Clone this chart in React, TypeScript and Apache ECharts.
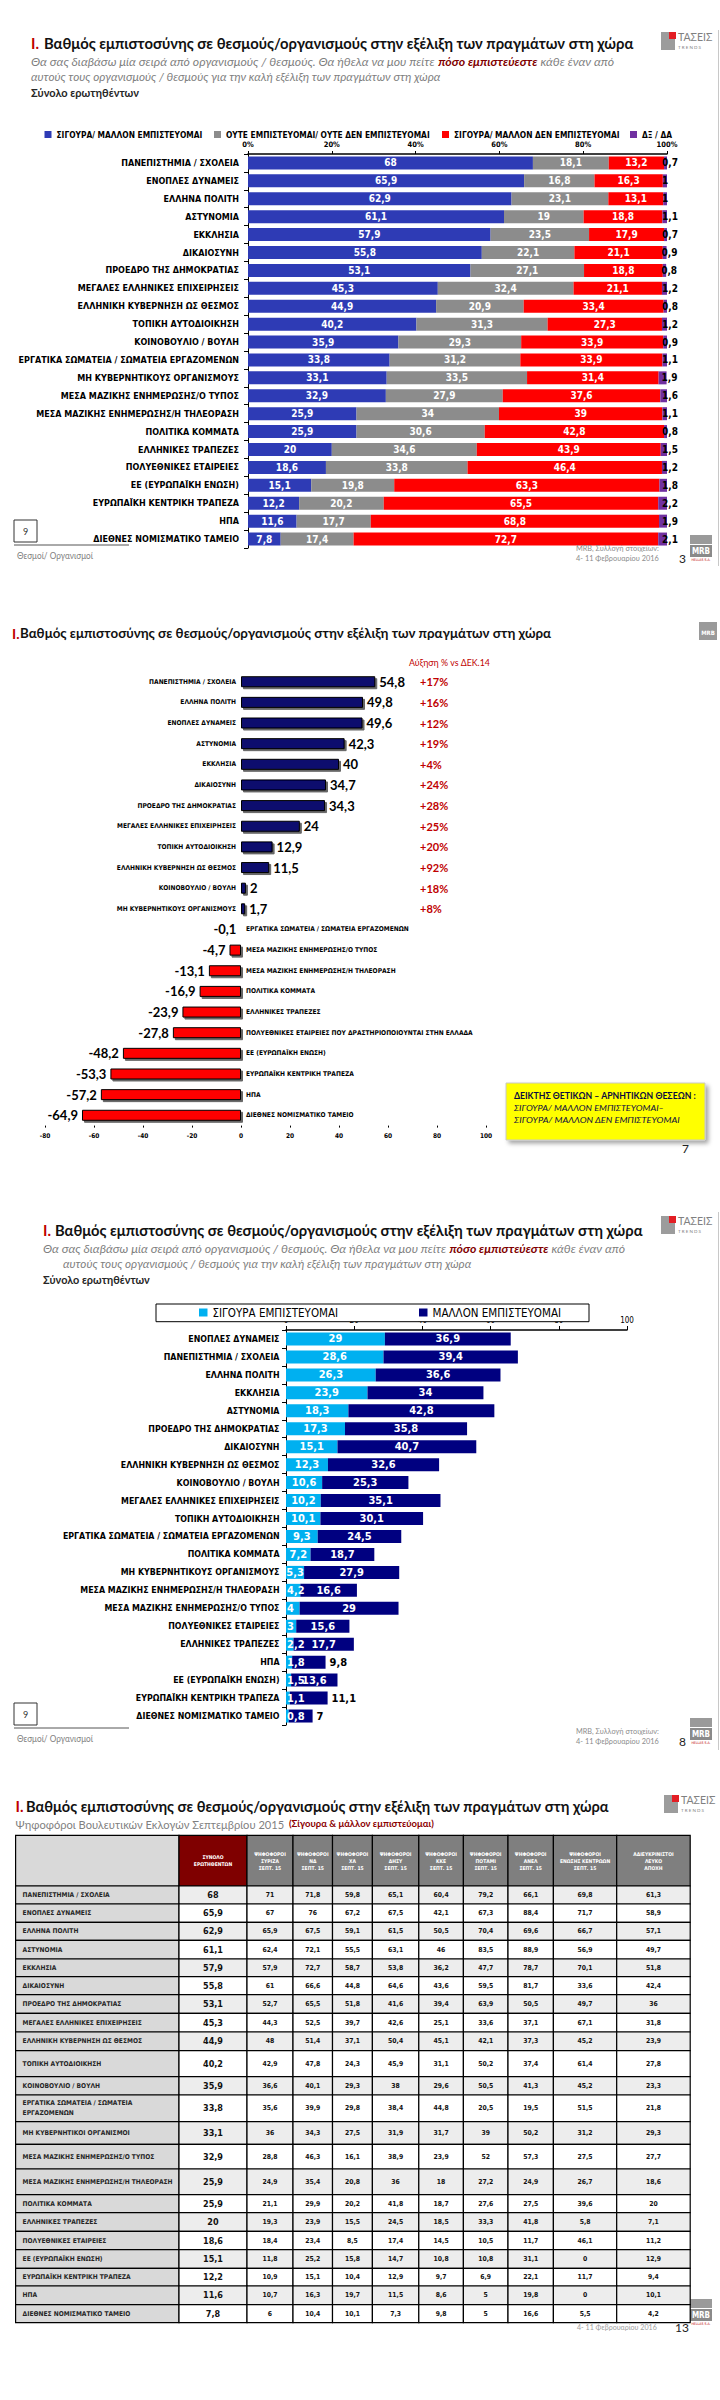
import React, { useEffect, useRef } from "react";
import * as echarts from "echarts";

// ---------- Panel 1: stacked trust shares ----------
const categories1 = [
  "ΠΑΝΕΠΙΣΤΗΜΙΑ / ΣΧΟΛΕΙΑ", "ΕΝΟΠΛΕΣ ΔΥΝΑΜΕΙΣ", "ΕΛΛΗΝΑ ΠΟΛΙΤΗ", "ΑΣΤΥΝΟΜΙΑ", "ΕΚΚΛΗΣΙΑ",
  "ΔΙΚΑΙΟΣΥΝΗ", "ΠΡΟΕΔΡΟ ΤΗΣ ΔΗΜΟΚΡΑΤΙΑΣ", "ΜΕΓΑΛΕΣ ΕΛΛΗΝΙΚΕΣ ΕΠΙΧΕΙΡΗΣΕΙΣ", "ΕΛΛΗΝΙΚΗ ΚΥΒΕΡΝΗΣΗ ΩΣ ΘΕΣΜΟΣ",
  "ΤΟΠΙΚΗ ΑΥΤΟΔΙΟΙΚΗΣΗ", "ΚΟΙΝΟΒΟΥΛΙΟ / ΒΟΥΛΗ", "ΕΡΓΑΤΙΚΑ ΣΩΜΑΤΕΙΑ / ΣΩΜΑΤΕΙΑ ΕΡΓΑΖΟΜΕΝΩΝ",
  "ΜΗ ΚΥΒΕΡΝΗΤΙΚΟΥΣ ΟΡΓΑΝΙΣΜΟΥΣ", "ΜΕΣΑ ΜΑΖΙΚΗΣ ΕΝΗΜΕΡΩΣΗΣ/Ο ΤΥΠΟΣ", "ΜΕΣΑ ΜΑΖΙΚΗΣ ΕΝΗΜΕΡΩΣΗΣ/Η ΤΗΛΕΟΡΑΣΗ",
  "ΠΟΛΙΤΙΚΑ ΚΟΜΜΑΤΑ", "ΕΛΛΗΝΙΚΕΣ ΤΡΑΠΕΖΕΣ", "ΠΟΛΥΕΘΝΙΚΕΣ ΕΤΑΙΡΕΙΕΣ", "ΕΕ (ΕΥΡΩΠΑΪΚΗ ΕΝΩΣΗ)",
  "ΕΥΡΩΠΑΪΚΗ ΚΕΝΤΡΙΚΗ ΤΡΑΠΕΖΑ", "ΗΠΑ", "ΔΙΕΘΝΕΣ ΝΟΜΙΣΜΑΤΙΚΟ ΤΑΜΕΙΟ",
];
const trustYes1 = [68, 65.9, 62.9, 61.1, 57.9, 55.8, 53.1, 45.3, 44.9, 40.2, 35.9, 33.8, 33.1, 32.9, 25.9, 25.9, 20, 18.6, 15.1, 12.2, 11.6, 7.8];
const trustNeutral1 = [18.1, 16.8, 23.1, 19, 23.5, 22.1, 27.1, 32.4, 20.9, 31.3, 29.3, 31.2, 33.5, 27.9, 34, 30.6, 34.6, 33.8, 19.8, 20.2, 17.7, 17.4];
const trustNo1 = [13.2, 16.3, 13.1, 18.8, 17.9, 21.1, 18.8, 21.1, 33.4, 27.3, 33.9, 33.9, 31.4, 37.6, 39, 42.8, 43.9, 46.4, 63.3, 65.5, 68.8, 72.7];
const trustDk1 = [0.7, 1, 1, 1.1, 0.7, 0.9, 0.8, 1.2, 0.8, 1.2, 0.9, 1.1, 1.9, 1.6, 1.1, 0.8, 1.5, 1.2, 1.8, 2.2, 1.9, 2.1];
const legendNames1 = [
  "ΣΙΓΟΥΡΑ/ ΜΑΛΛΟΝ ΕΜΠΙΣΤΕΥΟΜΑΙ",
  "ΟΥΤΕ ΕΜΠΙΣΤΕΥΟΜΑΙ/ ΟΥΤΕ ΔΕΝ ΕΜΠΙΣΤΕΥΟΜΑΙ",
  "ΣΙΓΟΥΡΑ/ ΜΑΛΛΟΝ ΔΕΝ ΕΜΠΙΣΤΕΥΟΜΑΙ",
  "ΔΞ / ΔΑ",
];

// ---------- Panel 2: net index ----------
const categories2 = [
  "ΠΑΝΕΠΙΣΤΗΜΙΑ / ΣΧΟΛΕΙΑ", "ΕΛΛΗΝΑ ΠΟΛΙΤΗ", "ΕΝΟΠΛΕΣ ΔΥΝΑΜΕΙΣ", "ΑΣΤΥΝΟΜΙΑ", "ΕΚΚΛΗΣΙΑ", "ΔΙΚΑΙΟΣΥΝΗ",
  "ΠΡΟΕΔΡΟ ΤΗΣ ΔΗΜΟΚΡΑΤΙΑΣ", "ΜΕΓΑΛΕΣ ΕΛΛΗΝΙΚΕΣ ΕΠΙΧΕΙΡΗΣΕΙΣ", "ΤΟΠΙΚΗ ΑΥΤΟΔΙΟΙΚΗΣΗ", "ΕΛΛΗΝΙΚΗ ΚΥΒΕΡΝΗΣΗ ΩΣ ΘΕΣΜΟΣ",
  "ΚΟΙΝΟΒΟΥΛΙΟ / ΒΟΥΛΗ", "ΜΗ ΚΥΒΕΡΝΗΤΙΚΟΥΣ ΟΡΓΑΝΙΣΜΟΥΣ", "ΕΡΓΑΤΙΚΑ ΣΩΜΑΤΕΙΑ / ΣΩΜΑΤΕΙΑ ΕΡΓΑΖΟΜΕΝΩΝ",
  "ΜΕΣΑ ΜΑΖΙΚΗΣ ΕΝΗΜΕΡΩΣΗΣ/Ο ΤΥΠΟΣ", "ΜΕΣΑ ΜΑΖΙΚΗΣ ΕΝΗΜΕΡΩΣΗΣ/Η ΤΗΛΕΟΡΑΣΗ", "ΠΟΛΙΤΙΚΑ ΚΟΜΜΑΤΑ",
  "ΕΛΛΗΝΙΚΕΣ ΤΡΑΠΕΖΕΣ", "ΠΟΛΥΕΘΝΙΚΕΣ ΕΤΑΙΡΕΙΕΣ ΠΟΥ ΔΡΑΣΤΗΡΙΟΠΟΙΟΥΝΤΑΙ ΣΤΗΝ ΕΛΛΑΔΑ", "ΕΕ (ΕΥΡΩΠΑΪΚΗ ΕΝΩΣΗ)",
  "ΕΥΡΩΠΑΪΚΗ ΚΕΝΤΡΙΚΗ ΤΡΑΠΕΖΑ", "ΗΠΑ", "ΔΙΕΘΝΕΣ ΝΟΜΙΣΜΑΤΙΚΟ ΤΑΜΕΙΟ",
];
const netIndex2 = [54.8, 49.8, 49.6, 42.3, 40, 34.7, 34.3, 24, 12.9, 11.5, 2, 1.7, -0.1, -4.7, -13.1, -16.9, -23.9, -27.8, -48.2, -53.3, -57.2, -64.9];
const change2 = ["+17%", "+16%", "+12%", "+19%", "+4%", "+24%", "+28%", "+25%", "+20%", "+92%", "+18%", "+8%", "", "", "", "", "", "", "", "", "", ""];

// ---------- Panel 3: sure / rather trust ----------
const categories3 = [
  "ΕΝΟΠΛΕΣ ΔΥΝΑΜΕΙΣ", "ΠΑΝΕΠΙΣΤΗΜΙΑ / ΣΧΟΛΕΙΑ", "ΕΛΛΗΝΑ ΠΟΛΙΤΗ", "ΕΚΚΛΗΣΙΑ", "ΑΣΤΥΝΟΜΙΑ", "ΠΡΟΕΔΡΟ ΤΗΣ ΔΗΜΟΚΡΑΤΙΑΣ",
  "ΔΙΚΑΙΟΣΥΝΗ", "ΕΛΛΗΝΙΚΗ ΚΥΒΕΡΝΗΣΗ ΩΣ ΘΕΣΜΟΣ", "ΚΟΙΝΟΒΟΥΛΙΟ / ΒΟΥΛΗ", "ΜΕΓΑΛΕΣ ΕΛΛΗΝΙΚΕΣ ΕΠΙΧΕΙΡΗΣΕΙΣ",
  "ΤΟΠΙΚΗ ΑΥΤΟΔΙΟΙΚΗΣΗ", "ΕΡΓΑΤΙΚΑ ΣΩΜΑΤΕΙΑ / ΣΩΜΑΤΕΙΑ ΕΡΓΑΖΟΜΕΝΩΝ", "ΠΟΛΙΤΙΚΑ ΚΟΜΜΑΤΑ",
  "ΜΗ ΚΥΒΕΡΝΗΤΙΚΟΥΣ ΟΡΓΑΝΙΣΜΟΥΣ", "ΜΕΣΑ ΜΑΖΙΚΗΣ ΕΝΗΜΕΡΩΣΗΣ/Η ΤΗΛΕΟΡΑΣΗ", "ΜΕΣΑ ΜΑΖΙΚΗΣ ΕΝΗΜΕΡΩΣΗΣ/Ο ΤΥΠΟΣ",
  "ΠΟΛΥΕΘΝΙΚΕΣ ΕΤΑΙΡΕΙΕΣ", "ΕΛΛΗΝΙΚΕΣ ΤΡΑΠΕΖΕΣ", "ΗΠΑ", "ΕΕ (ΕΥΡΩΠΑΪΚΗ ΕΝΩΣΗ)", "ΕΥΡΩΠΑΪΚΗ ΚΕΝΤΡΙΚΗ ΤΡΑΠΕΖΑ",
  "ΔΙΕΘΝΕΣ ΝΟΜΙΣΜΑΤΙΚΟ ΤΑΜΕΙΟ",
];
const sure3 = [29, 28.6, 26.3, 23.9, 18.3, 17.3, 15.1, 12.3, 10.6, 10.2, 10.1, 9.3, 7.2, 5.3, 4.2, 4, 3, 2.2, 1.8, 1.5, 1.1, 0.8];
const rather3 = [36.9, 39.4, 36.6, 34, 42.8, 35.8, 40.7, 32.6, 25.3, 35.1, 30.1, 24.5, 18.7, 27.9, 16.6, 29, 15.6, 17.7, 9.8, 13.6, 11.1, 7];
const legendNames3 = ["ΣΙΓΟΥΡΑ ΕΜΠΙΣΤΕΥΟΜΑΙ", "ΜΑΛΛΟΝ ΕΜΠΙΣΤΕΥΟΜΑΙ"];

// ---------- Panel 4: table ----------
const tableHeaders = [
  "ΣΥΝΟΛΟ\nΕΡΩΤΗΘΕΝΤΩΝ", "ΨΗΦΟΦΟΡΟΙ\nΣΥΡΙΖΑ\nΣΕΠΤ. 15", "ΨΗΦΟΦΟΡΟΙ\nΝΔ\nΣΕΠΤ. 15", "ΨΗΦΟΦΟΡΟΙ\nΧΑ\nΣΕΠΤ. 15",
  "ΨΗΦΟΦΟΡΟΙ\nΔΗΣΥ\nΣΕΠΤ. 15", "ΨΗΦΟΦΟΡΟΙ\nΚΚΕ\nΣΕΠΤ. 15", "ΨΗΦΟΦΟΡΟΙ\nΠΟΤΑΜΙ\nΣΕΠΤ. 15",
  "ΨΗΦΟΦΟΡΟΙ\nΑΝΕΛ\nΣΕΠΤ. 15", "ΨΗΦΟΦΟΡΟΙ\nΕΝΩΣΗΣ ΚΕΝΤΡΩΩΝ\nΣΕΠΤ. 15", "ΑΔΙΕΥΚΡΙΝΙΣΤΟΙ\nΛΕΥΚΟ\nΑΠΟΧΗ",
];
const tableRows = [
  "ΠΑΝΕΠΙΣΤΗΜΙΑ / ΣΧΟΛΕΙΑ", "ΕΝΟΠΛΕΣ ΔΥΝΑΜΕΙΣ", "ΕΛΛΗΝΑ ΠΟΛΙΤΗ", "ΑΣΤΥΝΟΜΙΑ", "ΕΚΚΛΗΣΙΑ", "ΔΙΚΑΙΟΣΥΝΗ",
  "ΠΡΟΕΔΡΟ ΤΗΣ ΔΗΜΟΚΡΑΤΙΑΣ", "ΜΕΓΑΛΕΣ ΕΛΛΗΝΙΚΕΣ ΕΠΙΧΕΙΡΗΣΕΙΣ", "ΕΛΛΗΝΙΚΗ ΚΥΒΕΡΝΗΣΗ ΩΣ ΘΕΣΜΟΣ",
  "ΤΟΠΙΚΗ ΑΥΤΟΔΙΟΙΚΗΣΗ", "ΚΟΙΝΟΒΟΥΛΙΟ / ΒΟΥΛΗ", "ΕΡΓΑΤΙΚΑ ΣΩΜΑΤΕΙΑ / ΣΩΜΑΤΕΙΑ\nΕΡΓΑΖΟΜΕΝΩΝ",
  "ΜΗ ΚΥΒΕΡΝΗΤΙΚΟΙ ΟΡΓΑΝΙΣΜΟΙ", "ΜΕΣΑ ΜΑΖΙΚΗΣ ΕΝΗΜΕΡΩΣΗΣ/Ο ΤΥΠΟΣ", "ΜΕΣΑ ΜΑΖΙΚΗΣ ΕΝΗΜΕΡΩΣΗΣ/Η ΤΗΛΕΟΡΑΣΗ",
  "ΠΟΛΙΤΙΚΑ ΚΟΜΜΑΤΑ", "ΕΛΛΗΝΙΚΕΣ ΤΡΑΠΕΖΕΣ", "ΠΟΛΥΕΘΝΙΚΕΣ ΕΤΑΙΡΕΙΕΣ", "ΕΕ (ΕΥΡΩΠΑΪΚΗ ΕΝΩΣΗ)",
  "ΕΥΡΩΠΑΪΚΗ ΚΕΝΤΡΙΚΗ ΤΡΑΠΕΖΑ", "ΗΠΑ", "ΔΙΕΘΝΕΣ ΝΟΜΙΣΜΑΤΙΚΟ ΤΑΜΕΙΟ",
];
const colTotal = [68, 65.9, 62.9, 61.1, 57.9, 55.8, 53.1, 45.3, 44.9, 40.2, 35.9, 33.8, 33.1, 32.9, 25.9, 25.9, 20, 18.6, 15.1, 12.2, 11.6, 7.8];
const colSyriza = [71, 67, 65.9, 62.4, 57.9, 61, 52.7, 44.3, 48, 42.9, 36.6, 35.6, 36, 28.8, 24.9, 21.1, 19.3, 18.4, 11.8, 10.9, 10.7, 6];
const colNd = [71.8, 76, 67.5, 72.1, 72.7, 66.6, 65.5, 52.5, 51.4, 47.8, 40.1, 39.9, 34.3, 46.3, 35.4, 29.9, 23.9, 23.4, 25.2, 15.1, 16.3, 10.4];
const colXa = [59.8, 67.2, 59.1, 55.5, 58.7, 44.8, 51.8, 39.7, 37.1, 24.3, 29.3, 29.8, 27.5, 16.1, 20.8, 20.2, 15.5, 8.5, 15.8, 10.4, 19.7, 10.1];
const colDisy = [65.1, 67.5, 61.5, 63.1, 53.8, 64.6, 41.6, 42.6, 50.4, 45.9, 38, 38.4, 31.9, 38.9, 36, 41.8, 24.5, 17.4, 14.7, 12.9, 11.5, 7.3];
const colKke = [60.4, 42.1, 50.5, 46, 36.2, 43.6, 39.4, 25.1, 45.1, 31.1, 29.6, 44.8, 31.7, 23.9, 18, 18.7, 18.5, 14.5, 10.8, 9.7, 8.6, 9.8];
const colPotami = [79.2, 67.3, 70.4, 83.5, 47.7, 59.5, 63.9, 33.6, 42.1, 50.2, 50.5, 20.5, 39, 52, 27.2, 27.6, 33.3, 10.5, 10.8, 6.9, 5, 5];
const colAnel = [66.1, 88.4, 69.6, 88.9, 78.7, 81.7, 50.5, 37.1, 37.3, 37.4, 41.3, 19.5, 50.2, 57.3, 24.9, 27.5, 41.8, 11.7, 31.1, 22.1, 19.8, 16.6];
const colEk = [69.8, 71.7, 66.7, 56.9, 70.1, 33.6, 49.7, 67.1, 45.2, 61.4, 45.2, 51.5, 31.2, 27.5, 26.7, 39.6, 5.8, 46.1, 0, 11.7, 0, 5.5];
const colOther = [61.3, 58.9, 57.1, 49.7, 51.8, 42.4, 36, 31.8, 23.9, 27.8, 23.3, 21.8, 29.3, 27.7, 18.6, 20, 7.1, 11.2, 12.9, 9.4, 10.1, 4.2];

const TITLE = "Βαθμός εμπιστοσύνης σε θεσμούς/οργανισμούς στην εξέλιξη των πραγμάτων στη χώρα";
const SUB1A = "Θα σας διαβάσω μία σειρά από οργανισμούς / θεσμούς. Θα ήθελα να μου πείτε ";
const SUB1B = "πόσο εμπιστεύεστε";
const SUB1C = " κάθε έναν από";
const SUB2 = "αυτούς τους οργανισμούς / θεσμούς για την καλή εξέλιξη των πραγμάτων στη χώρα";
const SUB3 = "Σύνολο ερωτηθέντων";

const FONT = "Lato, 'Noto Sans', 'DejaVu Sans', sans-serif";
const NARROW = "'Liberation Sans Narrow', 'DejaVu Sans Condensed', Roboto, 'Noto Sans', sans-serif";

const fmt = (v: number) => String(v).replace(".", ",");

function buildOption() {
  const canvas = document.createElement("canvas");
  const ctx = canvas.getContext("2d") as CanvasRenderingContext2D;
  const fontStr = (size: number, weight = "normal", style = "normal", family = FONT) =>
    `${style} ${weight} ${size}px ${family}`;
  const measure = (t: string, font: string) => {
    ctx.font = font;
    return ctx.measureText(t).width || 1;
  };
  const fitSize = (text: string, weight: string, family: string, target: number, max: number) =>
    Math.min(max, (10 * target) / measure(text, fontStr(10, weight, "normal", family)));

  const T = (x: number, y: number, text: string, size: number, o: any = {}) => {
    const weight = o.weight || "normal";
    const style = o.style || "normal";
    const family = o.family || FONT;
    const w = measure(text, fontStr(size, weight, style, family));
    return {
      type: "text", x, y, z: 50, silent: true,
      scaleX: o.width ? o.width / w : 1,
      style: {
        text, x: 0, y: 0, fill: o.fill || "#000", fontSize: size, fontWeight: weight,
        fontStyle: style, fontFamily: family, align: o.align || "left", verticalAlign: "middle",
      },
    };
  };
  const R = (x: number, y: number, parts: any[], width: number) => {
    let total = 0;
    let text = "";
    const rich: any = {};
    parts.forEach((p: any, i: number) => {
      const k = "p" + i;
      rich[k] = { fill: p.fill, fontSize: p.size, fontWeight: p.weight || "normal", fontStyle: p.style || "normal", fontFamily: FONT };
      total += measure(p.t, fontStr(p.size, p.weight || "normal", p.style || "normal"));
      text += `{${k}|${p.t}}`;
    });
    return {
      type: "text", x, y, z: 50, silent: true, scaleX: width / total,
      style: { text, rich, x: 0, y: 0, align: "left", verticalAlign: "middle", fontSize: parts[0].size, fontFamily: FONT },
    };
  };
  const title = (xI: number, xMain: number, y: number, width: number, size: number) => [
    T(xI, y, "I.", size, { weight: "bold", fill: "#C00000" }),
    T(xMain, y, TITLE, size, { weight: "bold", fill: "#111", width }),
  ];
  const subtitle = (x1: number, x2: number, y: number, w1: number, w2: number, w3: number) => [
    R(x1, y, [
      { t: SUB1A, size: 11.5, style: "italic", fill: "#7F7F7F" },
      { t: SUB1B, size: 11.5, style: "italic", weight: "bold", fill: "#7F0000" },
      { t: SUB1C, size: 11.5, style: "italic", fill: "#7F7F7F" },
    ], w1),
    T(x2, y + 15, SUB2, 11.5, { style: "italic", fill: "#7F7F7F", width: w2 }),
    T(x1, y + 30, SUB3, 11.5, { weight: "bold", fill: "#262626", width: w3 }),
  ];
  const logo = (x: number, y: number) => ({
    type: "group", x, y, z: 50, silent: true,
    children: [
      { type: "rect", shape: { x: 0, y: 0, width: 14, height: 18 }, style: { fill: "#9C9C9C" } },
      { type: "rect", shape: { x: 8, y: 0, width: 7, height: 7 }, style: { fill: "#E31E24" } },
      { type: "text", style: { text: "ΤΑΣΕΙΣ", x: 17, y: 5, fontSize: 10.5, fill: "#808080", fontFamily: FONT, verticalAlign: "middle" } },
      { type: "text", style: { text: "T R E N D S", x: 17, y: 15, fontSize: 4.5, fill: "#808080", fontFamily: FONT, verticalAlign: "middle" } },
    ],
  });
  const mrb = (x: number, y: number) => ({
    type: "group", x, y, z: 50, silent: true,
    children: [
      { type: "rect", shape: { x: 0, y: 0, width: 22, height: 9 }, style: { fill: "#9A9A9A" } },
      { type: "rect", shape: { x: 0, y: 10, width: 22, height: 12 }, style: { fill: "#8A8A8A" } },
      { type: "text", style: { text: "MRB", x: 11, y: 16, fontSize: 8, fontWeight: "bold", fill: "#fff", fontFamily: NARROW, align: "center", verticalAlign: "middle" } },
      { type: "text", style: { text: "HELLAS S.A.", x: 11, y: 25, fontSize: 3.5, fill: "#C00000", fontFamily: NARROW, align: "center", verticalAlign: "middle" } },
    ],
  });
  const footer = (yBox: number, page: string) => [
    { type: "rect", z: 50, silent: true, shape: { x: 14, y: yBox, width: 23, height: 22 }, style: { fill: "none", stroke: "#333", lineWidth: 1 } },
    T(25.5, yBox + 11, "9", 9, { align: "center", fill: "#333" }),
    { type: "line", z: 50, silent: true, shape: { x1: 14, y1: yBox + 25, x2: 129, y2: yBox + 25 }, style: { stroke: "#555", lineWidth: 1 } },
    T(17, yBox + 35, "Θεσμοί/ Οργανισμοί", 9, { fill: "#7F7F7F", width: 76 }),
    T(576, yBox + 28, "MRB, Συλλογή στοιχείων:", 8.5, { fill: "#8C8C8C", width: 83 }),
    T(576, yBox + 38, "4- 11 Φεβρουαρίου 2016", 8.5, { fill: "#8C8C8C", width: 83 }),
    T(679, yBox + 38, page, 12, { fill: "#222" }),
    mrb(690, yBox + 15),
  ];

  const lbl1 = fitSize("ΕΡΓΑΤΙΚΑ ΣΩΜΑΤΕΙΑ / ΣΩΜΑΤΕΙΑ ΕΡΓΑΖΟΜΕΝΩΝ", "bold", NARROW, 221, 10);
  const lbl3 = fitSize("ΕΡΓΑΤΙΚΑ ΣΩΜΑΤΕΙΑ / ΣΩΜΑΤΕΙΑ ΕΡΓΑΖΟΜΕΝΩΝ", "bold", NARROW, 217, 10);
  const lbl2 = fitSize("ΠΟΛΥΕΘΝΙΚΕΣ ΕΤΑΙΡΕΙΕΣ ΠΟΥ ΔΡΑΣΤΗΡΙΟΠΟΙΟΥΝΤΑΙ ΣΤΗΝ ΕΛΛΑΔΑ", "bold", NARROW, 227, 8);
  const lblT = fitSize("ΜΕΣΑ ΜΑΖΙΚΗΣ ΕΝΗΜΕΡΩΣΗΣ/Η ΤΗΛΕΟΡΑΣΗ", "bold", NARROW, 150, 7.5);
  const leg1 = fitSize(legendNames1[1], "bold", NARROW, 204, 10);
  const leg3 = fitSize(legendNames3[0], "normal", NARROW, 126, 11.5);

  // table layout (px, relative to the table's top-left corner)
  const colW = [163.4, 68, 46, 39.5, 39.9, 46.4, 44.6, 44.6, 45.4, 63.3, 73.5];
  const rowH = [50.7, 18, 18.3, 18, 18.7, 17.7, 18, 18.6, 18.7, 18.7, 26, 18.3, 26.7, 22.6, 24.7, 25.7, 18, 18.6, 18.4, 18.6, 17.7, 18.7, 18];
  const colE = [0];
  colW.forEach((w) => colE.push(colE[colE.length - 1] + w));
  const rowE = [0];
  rowH.forEach((h) => rowE.push(rowE[rowE.length - 1] + h));
  const TW = colE[colE.length - 1];
  const TH = rowE[rowE.length - 1];
  const tableCols = [colTotal, colSyriza, colNd, colXa, colDisy, colKke, colPotami, colAnel, colEk, colOther];
  const cells: number[][] = [];
  for (let r = 0; r <= tableRows.length; r++) for (let c = 0; c <= tableCols.length; c++) cells.push([c, r]);

  const renderCell = (params: any, api: any) => {
    const c = api.value(0);
    const r = api.value(1);
    const p0 = api.coord([colE[c], rowE[r]]);
    const p1 = api.coord([colE[c + 1], rowE[r + 1]]);
    const x = p0[0], y = p0[1], w = p1[0] - p0[0], h = p1[1] - p0[1];
    let fill = "#fff", text = "", color = "#000", size = 6.8, align = "center", tx = x + w / 2, lh = 7;
    if (r === 0) {
      fill = c === 0 ? "#D9D9D9" : c === 1 ? "#7F0000" : "#7F7F7F";
      text = c === 0 ? "" : tableHeaders[c - 1];
      color = "#fff";
      size = 5;
      lh = 7;
    } else if (c === 0) {
      fill = "#D9D9D9";
      text = tableRows[r - 1];
      color = "#262626";
      size = lblT;
      align = "left";
      tx = x + 7;
      lh = 10;
    } else {
      fill = r % 2 === 1 ? "#EDEDED" : "#FFFFFF";
      text = fmt(tableCols[c - 1][r - 1]);
      size = c === 1 ? 9 : 6.8;
      color = "#111";
    }
    const children: any[] = [
      { type: "rect", shape: { x, y, width: w, height: h }, style: { fill, stroke: "#000", lineWidth: 1.2 } },
    ];
    if (text) {
      children.push({
        type: "text",
        style: { text, x: tx, y: y + h / 2, align, textAlign: align, verticalAlign: "middle", textVerticalAlign: "middle", fill: color, fontSize: size, fontWeight: "bold", fontFamily: NARROW, lineHeight: lh },
      });
    }
    return { type: "group", children };
  };

  const p1Colors = ["#2E3BB5", "#8C8C8C", "#FF0000", "#7030A0"];
  const p1Data = [trustYes1, trustNeutral1, trustNo1, trustDk1];
  const p1Left = [44.5, 214, 442, 630];

  const graphic: any[] = [
    // panel 1
    logo(661, 32),
    ...title(31, 44, 43, 590, 15),
    ...subtitle(31, 31, 62, 583, 410, 108),
    { type: "line", z: 1, silent: true, shape: { x1: 718.5, y1: 30, x2: 718.5, y2: 566 }, style: { stroke: "#C8C8C8", lineWidth: 1 } },
    ...footer(520, "3"),
    // panel 2
    ...title(12, 20, 633, 531, 14),
    { type: "group", x: 699, y: 622, z: 50, silent: true, children: [
      { type: "rect", shape: { x: 0, y: 0, width: 18, height: 18 }, style: { fill: "#9A9A9A" } },
      { type: "text", style: { text: "MRB", x: 9, y: 10, fontSize: 6, fontWeight: "bold", fill: "#fff", fontFamily: NARROW, align: "center", verticalAlign: "middle" } },
    ] },
    T(409, 662, "Αύξηση % vs ΔΕΚ.14", 9, { fill: "#C00000", width: 81 }),
    { type: "rect", z: 40, silent: true, shape: { x: 506, y: 1083, width: 199, height: 57 }, style: { fill: "#FFFF00", stroke: "#C8C8C8", lineWidth: 1, shadowBlur: 4, shadowColor: "rgba(0,0,0,0.35)", shadowOffsetX: 3, shadowOffsetY: 3 } },
    T(514, 1096, "ΔΕΙΚΤΗΣ ΘΕΤΙΚΩΝ – ΑΡΝΗΤΙΚΩΝ ΘΕΣΕΩΝ :", 8.5, { weight: "bold", fill: "#0A0A40", width: 182 }),
    T(514, 1108, "ΣΙΓΟΥΡΑ/ ΜΑΛΛΟΝ ΕΜΠΙΣΤΕΥΟΜΑΙ–", 8.5, { style: "italic", fill: "#0A0A40", width: 150 }),
    T(514, 1120, "ΣΙΓΟΥΡΑ/ ΜΑΛΛΟΝ ΔΕΝ ΕΜΠΙΣΤΕΥΟΜΑΙ", 8.5, { style: "italic", fill: "#0A0A40", width: 166 }),
    T(682, 1148, "7", 12, { fill: "#222" }),
    // panel 3
    logo(661, 1216),
    ...title(43, 55, 1230, 588, 15),
    ...subtitle(43, 63, 1249, 582, 409, 107),
    { type: "line", z: 1, silent: true, shape: { x1: 718.5, y1: 1212, x2: 718.5, y2: 1750 }, style: { stroke: "#C8C8C8", lineWidth: 1 } },
    { type: "rect", z: 20, silent: true, shape: { x: 156, y: 1304, width: 433, height: 17.7 }, style: { fill: "#fff", stroke: "#000", lineWidth: 1 } },
    ...footer(1703, "8"),
    // panel 4
    logo(664, 1795),
    ...title(15.6, 26, 1806, 583, 15),
    T(15.6, 1824, "Ψηφοφόροι Βουλευτικών Εκλογών Σεπτεμβρίου 2015", 11.5, { fill: "#7F7F7F", width: 269 }),
    T(289, 1824, "(Σίγουρα & μάλλον εμπιστεύομαι)", 9, { weight: "bold", fill: "#8B0000", width: 145 }),
    T(577, 2327, "4- 11 Φεβρουαρίου 2016", 8, { fill: "#A0A0A0", width: 80 }),
    T(675, 2327, "13", 12, { fill: "#222" }),
    mrb(690, 2299),
  ];

  const legend: any[] = [
    ...legendNames1.map((n, i) => ({
      data: [n], left: p1Left[i], top: 130.5, padding: 0, itemWidth: 7, itemHeight: 7, icon: "rect",
      selectedMode: false, z: 30, textStyle: { fontSize: leg1, fontWeight: "bold", fontFamily: NARROW, color: "#000" },
    })),
    ...legendNames3.map((n, i) => ({
      data: [n], left: [199, 419][i], top: 1306.5, padding: 0, itemWidth: 8.5, itemHeight: 8, icon: "rect",
      selectedMode: false, z: 30, itemGap: 4, textStyle: { fontSize: leg3, fontFamily: NARROW, color: "#000" },
    })),
  ];

  const series: any[] = [
    ...legendNames1.map((n, i) => ({
      type: "bar", name: n, stack: "p1", xAxisIndex: 0, yAxisIndex: 0, barWidth: 13,
      data: p1Data[i], itemStyle: { color: p1Colors[i] },
      label: i < 3
        ? { show: true, position: "inside", color: "#fff", fontWeight: "bold", fontSize: 10, fontFamily: NARROW, formatter: (p: any) => fmt(p.value) }
        : { show: true, position: "right", distance: -5, color: "#000", fontWeight: "bold", fontSize: 10, fontFamily: NARROW, formatter: (p: any) => fmt(p.value) },
    })),
    {
      type: "bar", name: "net", xAxisIndex: 1, yAxisIndex: 1, barWidth: 11, barGap: "-100%", z: 3,
      data: netIndex2.map((v) => ({
        value: v,
        itemStyle: { color: v >= 0 ? "#0A0A6E" : "#FF0000" },
        label: { position: v >= 0 ? "right" : "left" },
      })),
      itemStyle: { borderColor: "#000", borderWidth: 1, shadowColor: "rgba(0,0,0,0.6)", shadowOffsetX: 2, shadowOffsetY: 2, shadowBlur: 1 },
      label: { show: true, distance: 4, color: "#000", fontWeight: "bold", fontSize: 13, fontFamily: FONT, formatter: (p: any) => fmt(p.value) },
    },
    {
      type: "bar", name: "netNames", xAxisIndex: 1, yAxisIndex: 1, barWidth: 11, barGap: "-100%", silent: true, z: 2,
      data: netIndex2.map((v) => ({ value: v, label: { position: v >= 0 ? "left" : "right" } })),
      itemStyle: { color: "rgba(0,0,0,0)" },
      label: { show: true, distance: 5, color: "#000", fontWeight: "bold", fontSize: lbl2, fontFamily: NARROW, formatter: (p: any) => categories2[p.dataIndex] },
    },
    {
      type: "bar", name: legendNames3[0], stack: "p3", xAxisIndex: 3, yAxisIndex: 3, barWidth: 13,
      itemStyle: { color: "#00B0F0" },
      data: sure3.map((v) => ({ value: v, label: { position: v < 5 ? "insideLeft" : "inside" } })),
      label: { show: true, distance: 1, color: "#fff", fontWeight: "bold", fontSize: 11, fontFamily: NARROW, formatter: (p: any) => fmt(p.value) },
    },
    {
      type: "bar", name: legendNames3[1], stack: "p3", xAxisIndex: 3, yAxisIndex: 3, barWidth: 13,
      itemStyle: { color: "#000080" },
      data: rather3.map((v, i) => ({
        value: v,
        label: sure3[i] + v < 13 ? { position: "right", color: "#000", distance: 4 } : { position: "inside" },
      })),
      label: { show: true, color: "#fff", fontWeight: "bold", fontSize: 11, fontFamily: NARROW, formatter: (p: any) => fmt(p.value) },
    },
    {
      type: "custom", name: "table", xAxisIndex: 4, yAxisIndex: 4, renderItem: renderCell, data: cells, silent: true,
    },
  ];

  const catAxisLabel = (size: number, margin: number) => ({
    fontSize: size, fontWeight: "bold", color: "#000", fontFamily: NARROW, margin,
  });

  return {
    animation: false,
    backgroundColor: "#fff",
    tooltip: { show: false },
    grid: [
      { left: 248, top: 154, width: 419, height: 394 },
      { left: 45, top: 671.4, width: 441, height: 454.2 },
      { left: 420, top: 671.4, width: 60, height: 454.2 },
      { left: 286, top: 1330, width: 341, height: 395 },
      { left: 15.6, top: 1835.3, width: TW, height: TH },
    ],
    xAxis: [
      {
        gridIndex: 0, type: "value", position: "top", min: 0, max: 100, interval: 20,
        axisLabel: { formatter: "{value}%", fontSize: 7.5, fontWeight: "bold", color: "#000", fontFamily: NARROW, margin: 6 },
        axisLine: { show: true, lineStyle: { color: "#000", width: 1.5 } },
        axisTick: { show: true, length: 3, lineStyle: { color: "#000" } },
        splitLine: { show: false },
      },
      {
        gridIndex: 1, type: "value", min: -80, max: 100, interval: 20,
        axisLabel: { fontSize: 6.5, fontWeight: "bold", color: "#000", fontFamily: NARROW, margin: 7 },
        axisLine: { show: false },
        axisTick: { show: true, length: 2, lineStyle: { color: "#000" } },
        splitLine: { show: false },
      },
      { gridIndex: 2, type: "value", min: 0, max: 1, show: false },
      {
        gridIndex: 3, type: "value", position: "top", min: 0, max: 100, interval: 20,
        axisLabel: { fontSize: 8, color: "#000", fontFamily: NARROW, margin: 6 },
        axisLine: { show: true, lineStyle: { color: "#000", width: 1.5 } },
        axisTick: { show: true, length: 4, lineStyle: { color: "#000" } },
        splitLine: { show: false },
      },
      { gridIndex: 4, type: "value", min: 0, max: TW, show: false },
    ],
    yAxis: [
      {
        gridIndex: 0, type: "category", inverse: true, data: categories1,
        axisLabel: catAxisLabel(lbl1, 9),
        axisLine: { show: true, lineStyle: { color: "#000" } },
        axisTick: { show: true, length: 4, lineStyle: { color: "#000" } },
      },
      { gridIndex: 1, type: "category", inverse: true, data: categories2, show: false },
      {
        gridIndex: 2, type: "category", inverse: true, data: change2,
        axisLine: { show: false }, axisTick: { show: false },
        axisLabel: { inside: true, margin: 0, color: "#C00000", fontWeight: "bold", fontSize: 11, fontFamily: FONT },
      },
      {
        gridIndex: 3, type: "category", inverse: true, data: categories3,
        axisLabel: catAxisLabel(lbl3, 6.5),
        axisLine: { show: true, lineStyle: { color: "#000" } },
        axisTick: { show: true, length: 4, lineStyle: { color: "#000" } },
      },
      { gridIndex: 4, type: "value", min: 0, max: TH, inverse: true, show: false },
    ],
    legend,
    graphic,
    series,
  };
}

export default function App() {
  const ref = useRef<HTMLDivElement>(null);
  useEffect(() => {
    document.body.style.margin = "0";
    const el = ref.current as HTMLDivElement;
    const chart = echarts.init(el, null, { renderer: "svg" });
    chart.setOption(buildOption() as any);
    return () => chart.dispose();
  }, []);
  return <div ref={ref} style={{ width: 720, height: 2400 }} />;
}
